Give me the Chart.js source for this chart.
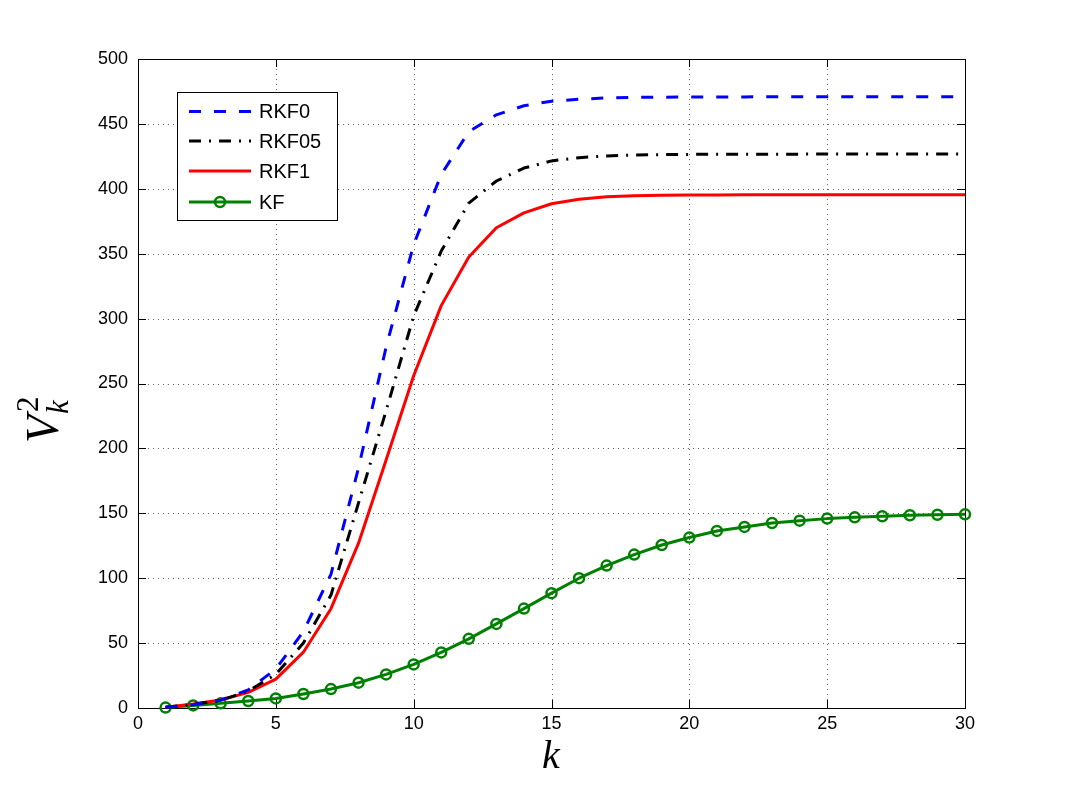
<!DOCTYPE html>
<html>
<head>
<meta charset="utf-8">
<title>V_k^2 versus k</title>
<script src="https://cdn.jsdelivr.net/npm/chart.js@4.4.1/dist/chart.umd.min.js"></script>
<style>
  html, body { margin: 0; padding: 0; background: #fff; }
  #wrap { width: 1065px; height: 796px; }
</style>
</head>
<body>
<div id="wrap"><canvas id="varChart" width="1065" height="796"></canvas></div>
<script>
// chart data
const kSteps = [1, 2, 3, 4, 5, 6, 7, 8, 9, 10, 11, 12, 13, 14, 15,
                16, 17, 18, 19, 20, 21, 22, 23, 24, 25, 26, 27, 28, 29, 30];
const rkf0  = [0.6, 2.5, 6, 14, 30, 59, 103, 185, 278, 357, 411, 444, 457, 464, 467.5,
               469, 470, 470.5, 470.6, 470.7, 470.8, 470.8, 470.9, 470.9, 471, 471, 471, 471, 471, 471];
const rkf05 = [0.6, 2.8, 6, 13, 26, 50, 87, 158, 229, 302, 352, 389, 406, 416, 421.5,
               424, 425.3, 426, 426.3, 426.5, 426.6, 426.6, 426.7, 426.7, 426.8, 426.8, 426.8, 426.8, 426.8, 426.8];
const rkf1  = [0.6, 3, 6.2, 12, 22.3, 43, 76.5, 127, 191, 256, 310, 347.5, 370, 381.5, 388.5,
               392, 393.8, 394.6, 395, 395.2, 395.3, 395.4, 395.4, 395.5, 395.5, 395.5, 395.5, 395.5, 395.5, 395.5];
const kf    = [0.3, 2, 3.6, 5.4, 7.4, 10.8, 14.6, 19.5, 25.9, 33.6, 42.8, 53.3, 64.8, 76.6, 88.5,
               100, 109.7, 118.2, 125.6, 131.3, 136.4, 139.5, 142.5, 144.3, 145.9, 146.9, 147.7, 148.5, 148.9, 149.2];
const xTicks = [0, 5, 10, 15, 20, 25, 30];
const yTicks = [0, 50, 100, 150, 200, 250, 300, 350, 400, 450, 500];
const seriesNames = ['RKF0', 'RKF05', 'RKF1', 'KF'];

function points(vals) {
    return kSteps.map((k, i) => ({ x: k, y: vals[i] }));
}

// grid, box and inward ticks, MATLAB style
const axesBox = {
    id: 'axesBox',
    beforeDatasetsDraw(chart) {
        const { ctx, chartArea: a, scales: { x, y } } = chart;
        ctx.save();
        ctx.lineWidth = 1;
        ctx.strokeStyle = 'rgba(0,0,0,0.6)';
        ctx.setLineDash([1, 4]);
        xTicks.forEach(v => {
            if (v === x.min || v === x.max) return;
            const px = Math.round(x.getPixelForValue(v)) + 0.5;
            ctx.beginPath(); ctx.moveTo(px, a.top); ctx.lineTo(px, a.bottom); ctx.stroke();
        });
        yTicks.forEach(v => {
            if (v === y.min || v === y.max) return;
            const py = Math.round(y.getPixelForValue(v)) + 0.5;
            ctx.beginPath(); ctx.moveTo(a.left, py); ctx.lineTo(a.right, py); ctx.stroke();
        });
        ctx.setLineDash([]);
        ctx.strokeStyle = '#000';
        const tl = 8;
        xTicks.forEach(v => {
            const px = Math.round(x.getPixelForValue(v)) + 0.5;
            ctx.beginPath();
            ctx.moveTo(px, a.bottom); ctx.lineTo(px, a.bottom - tl);
            ctx.moveTo(px, a.top); ctx.lineTo(px, a.top + tl);
            ctx.stroke();
        });
        yTicks.forEach(v => {
            const py = Math.round(y.getPixelForValue(v)) + 0.5;
            ctx.beginPath();
            ctx.moveTo(a.left, py); ctx.lineTo(a.left + tl, py);
            ctx.moveTo(a.right, py); ctx.lineTo(a.right - tl, py);
            ctx.stroke();
        });
        ctx.strokeRect(Math.round(a.left) + 0.5, Math.round(a.top) + 0.5,
                       Math.round(a.right - a.left), Math.round(a.bottom - a.top));
        ctx.restore();
    },
    afterDraw(chart) {
        const { ctx } = chart;
        ctx.save();
        // legend box
        const bx = 177, by = 92, bw = 160, bh = 128;
        ctx.fillStyle = '#fff';
        ctx.fillRect(bx, by, bw, bh);
        ctx.strokeStyle = '#000';
        ctx.lineWidth = 1;
        ctx.strokeRect(bx + 0.5, by + 0.5, bw, bh);
        const rows = [111.5, 141, 171, 202];
        chart.data.datasets.forEach((ds, i) => {
            const ly = rows[i];
            ctx.save();
            ctx.strokeStyle = ds.borderColor;
            ctx.lineWidth = ds.borderWidth;
            ctx.setLineDash(ds.borderDash || []);
            ctx.beginPath(); ctx.moveTo(189, ly); ctx.lineTo(251, ly); ctx.stroke();
            if (ds.pointRadius > 0) {
                ctx.setLineDash([]);
                ctx.lineWidth = ds.pointBorderWidth;
                ctx.beginPath(); ctx.arc(220, ly, ds.pointRadius, 0, Math.PI * 2); ctx.stroke();
            }
            ctx.restore();
            ctx.fillStyle = '#000';
            ctx.font = '20px "Liberation Sans", Arial, sans-serif';
            ctx.textBaseline = 'middle';
            ctx.textAlign = 'left';
            ctx.fillText(ds.label, 259, ly + 1);
        });
        // x label
        ctx.font = 'italic 40px "Liberation Serif", "DejaVu Serif", serif';
        ctx.textBaseline = 'alphabetic';
        ctx.textAlign = 'center';
        ctx.fillText('k', 551, 768);
        // y label  V_k^2
        ctx.translate(58, 443);
        ctx.rotate(-Math.PI / 2);
        ctx.textAlign = 'left';
        ctx.font = 'italic 46px "Liberation Serif", "DejaVu Serif", serif';
        ctx.fillText('V', 0, 0);
        const vw = ctx.measureText('V').width;
        ctx.font = 'italic 31px "Liberation Serif", "DejaVu Serif", serif';
        ctx.fillText('k', vw + 1, 10);
        ctx.font = '31px "Liberation Serif", "DejaVu Serif", serif';
        ctx.fillText('2', vw + 3, -20);
        ctx.restore();
    }
};

Chart.defaults.font.family = '"Liberation Sans", Arial, sans-serif';
Chart.defaults.color = '#000';

const ctx = document.getElementById('varChart').getContext('2d');
new Chart(ctx, {
    type: 'line',
    data: {
        datasets: [{
            label: seriesNames[0],
            data: points(rkf0),
            borderColor: '#0000ff',
            borderWidth: 3,
            borderDash: [12, 13],
            pointRadius: 0
        }, {
            label: seriesNames[1],
            data: points(rkf05),
            borderColor: '#000000',
            borderWidth: 3,
            borderDash: [12, 8, 2, 8],
            pointRadius: 0
        }, {
            label: seriesNames[2],
            data: points(rkf1),
            borderColor: '#ff0000',
            borderWidth: 3,
            pointRadius: 0
        }, {
            label: seriesNames[3],
            data: points(kf),
            borderColor: '#008000',
            borderWidth: 3,
            pointRadius: 5,
            pointBorderWidth: 2.5,
            pointBorderColor: '#008000',
            pointBackgroundColor: 'rgba(0,0,0,0)'
        }]
    },
    options: {
        responsive: false,
        animation: false,
        devicePixelRatio: 1,
        clip: false,
        layout: { padding: { top: 59, right: 100, left: 0, bottom: 0 } },
        plugins: { legend: { display: false }, tooltip: { enabled: false } },
        elements: { line: { tension: 0, borderCapStyle: 'butt', borderJoinStyle: 'round' } },
        scales: {
            x: {
                type: 'linear',
                min: 0,
                max: 30,
                afterBuildTicks: s => { s.ticks = xTicks.map(v => ({ value: v })); },
                afterFit: s => { s.height = 88; },
                ticks: { padding: 5, font: { size: 18 }, color: '#000', maxRotation: 0 },
                grid: { display: false, drawTicks: false },
                border: { display: false }
            },
            y: {
                min: 0,
                max: 500,
                afterBuildTicks: s => { s.ticks = yTicks.map(v => ({ value: v })); },
                afterFit: s => { s.width = 138; },
                ticks: { padding: 10, font: { size: 18 }, color: '#000' },
                grid: { display: false, drawTicks: false },
                border: { display: false }
            }
        }
    },
    plugins: [axesBox]
});
</script>
</body>
</html>
